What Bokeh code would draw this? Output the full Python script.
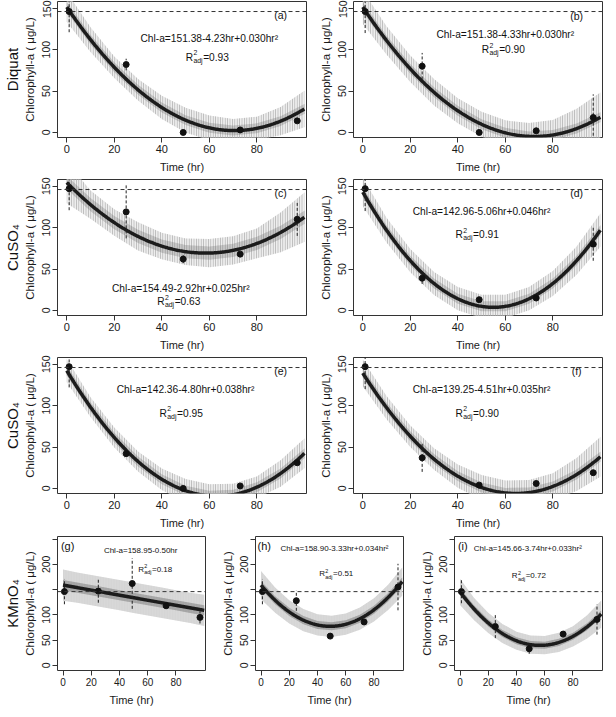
import numpy as np
from bokeh.plotting import figure
from bokeh.models import Range1d, FixedTicker, LinearAxis, Span
from bokeh.layouts import column, row
from bokeh.core.properties import value
from bokeh.embed import file_html
from bokeh.resources import INLINE

# ---------------- data ----------------
obs_time = [1, 25, 49, 73, 97]          # sampling times (hr)
control_level = 146                      # dashed reference line (µg/L)

chl_a = [146, 82, 0, 3, 14];     err_a = [25, 7, 0, 0, 0]
chl_b = [146, 80, 0, 2, 18];     err_b = [26, 16, 0, 0, 28]
chl_c = [147, 119, 62, 68, 110]; err_c = [26, 32, 5, 0, 20]
chl_d = [147, 39, 13, 15, 80];   err_d = [27, 7, 0, 0, 20]
chl_e = [147, 42, 0, 3, 31];     err_e = [25, 0, 0, 0, 0]
chl_f = [147, 37, 4, 6, 19];     err_f = [27, 17, 0, 0, 0]
chl_g = [146, 147, 162, 118, 95]; err_g = [25, 23, 50, 0, 12]
chl_h = [146, 128, 58, 86, 155]; err_h = [25, 20, 0, 0, 46]
chl_i = [146, 77, 33, 62, 91];   err_i = [23, 23, 10, 0, 30]

# fitted model coefficients: Chl-a = c0 + c1*hr + c2*hr^2
coef_a = [151.38, -4.23, 0.030]
coef_b = [151.38, -4.33, 0.030]
coef_c = [154.49, -2.92, 0.025]
coef_d = [142.96, -5.06, 0.046]
coef_e = [142.36, -4.80, 0.038]
coef_f = [139.25, -4.51, 0.035]
coef_g = [158.95, -0.50, 0.0]
coef_h = [158.90, -3.33, 0.034]
coef_i = [145.66, -3.74, 0.033]

eq_texts = ["Chl-a=151.38-4.23hr+0.030hr²", "Chl-a=151.38-4.33hr+0.030hr²",
            "Chl-a=154.49-2.92hr+0.025hr²", "Chl-a=142.96-5.06hr+0.046hr²",
            "Chl-a=142.36-4.80hr+0.038hr²", "Chl-a=139.25-4.51hr+0.035hr²",
            "Chl-a=158.95-0.50hr", "Chl-a=158.90-3.33hr+0.034hr²",
            "Chl-a=145.66-3.74hr+0.033hr²"]
r2_texts = ["0.93", "0.90", "0.63", "0.91", "0.95", "0.90", "0.18", "0.51", "0.72"]
panel_tags = ["(a)", "(b)", "(c)", "(d)", "(e)", "(f)", "(g)", "(h)", "(i)"]
row_names = ["Diquat", "CuSO₄", "CuSO₄", "KMnO₄"]

# confidence band half-widths (µg/L) read at these times
band_time = [0, 10, 20, 30, 40, 50, 60, 70, 80, 90, 100]
band_a = [18, 15, 13, 13, 14, 15, 15, 14, 14, 17, 22]
band_b = [20, 17, 16, 16, 15, 15, 15, 16, 18, 24, 30]
band_c = [25, 17, 16, 17, 16, 16, 17, 17, 18, 24, 30]
band_d = [17, 15, 14, 14, 14, 14, 14, 14, 15, 17, 20]
band_e = [14, 12, 12, 12, 13, 14, 14, 13, 13, 16, 18]
band_f = [16, 14, 13, 13, 14, 15, 15, 15, 16, 20, 24]
band_g = [31, 30, 30, 30, 30, 30, 30, 30, 30, 30, 31]
band_h = [28, 25, 23, 22, 21, 21, 21, 22, 23, 25, 28]
band_i = [26, 22, 20, 19, 18, 18, 18, 19, 20, 23, 27]
inner_hw = [6, 6, 8, 6, 6, 6, 10, 8, 7]

x_ticks = [0, 20, 40, 60, 80]
y_ticks_top = [0, 50, 100, 150]
y_ticks_bottom = [0, 50, 100, 150, 200, 250]

# ---------------- layout / style (not data) ----------------
FONT = "Liberation Sans"
XR = (-3.9, 100.9)
YR_TOP = (-6.1, 158.1)
YR_BOT = (-10, 255)

# text positions per panel: eq (x,y), r2 (x,y), tag (x,y,align)
text_pos = [
    ((60, 113), (59, 91), (90, 142, "center")),
    ((60, 118), (59, 100), (90, 141, "center")),
    ((48, 27), (47, 11), (90, 142, "center")),
    ((50, 120), (48, 92), (90, 142, "center")),
    ((50, 119), (48, 91), (90, 142, "center")),
    ((50, 119), (48, 91), (90, 142, "center")),
    ((55, 227), (65, 190), (-1.5, 236, "left")),
    ((52, 232), (53, 181), (-2.5, 236, "left")),
    ((48, 232), (48.5, 177), (-1.5, 236, "left")),
]

chls = [chl_a, chl_b, chl_c, chl_d, chl_e, chl_f, chl_g, chl_h, chl_i]
errs = [err_a, err_b, err_c, err_d, err_e, err_f, err_g, err_h, err_i]
coefs = [coef_a, coef_b, coef_c, coef_d, coef_e, coef_f, coef_g, coef_h, coef_i]
bands = [band_a, band_b, band_c, band_d, band_e, band_f, band_g, band_h, band_i]


def style_axes(p, yticks, overrides, tick_fs):
    for ax in (p.xaxis[0], p.yaxis[0]):
        ax.axis_line_color = None
        ax.major_tick_in = 0
        ax.major_tick_out = 5
        ax.minor_tick_line_color = None
        ax.major_tick_line_color = "#333333"
        ax.major_label_text_font = FONT
        ax.major_label_text_color = "#1a1a1a"
        ax.major_label_standoff = 2
        ax.axis_label_text_font = FONT
        ax.axis_label_text_font_style = "normal"
        ax.axis_label_text_color = "#1a1a1a"
    xa = p.xaxis[0]
    xa.ticker = FixedTicker(ticks=x_ticks)
    xa.major_label_text_font_size = tick_fs
    xa.axis_label = "Time (hr)"
    xa.axis_label_text_font_size = "11px"
    xa.axis_label_standoff = 5
    ya = p.yaxis[0]
    ya.ticker = FixedTicker(ticks=yticks)
    ya.major_label_orientation = "vertical"
    ya.major_label_text_font_size = "10.5px"
    ya.major_label_overrides = overrides
    ya.axis_label = "Chlorophyll-a ( μg/L)"
    ya.axis_label_text_font_size = "11.5px"
    ya.axis_label_standoff = 4


def add_r2(p, x, y, r2, fs):
    small = fs * 0.68
    wR = 0.722 * fs
    wsub = 1.334 * small
    wrest = (0.584 + 0.556 * 3 + 0.278) * fs
    x0 = -(wR + wsub + wrest) / 2
    common = dict(text_font=value(FONT), text_color="#111111", text_baseline="middle",
                  text_align="left")
    p.text(x=[x], y=[y], text=["R"], x_offset=x0, text_font_size=value(f"{fs}px"), **common)
    p.text(x=[x], y=[y], text=["2"], x_offset=x0 + wR + 0.3, y_offset=-0.40 * fs,
           text_font_size=value(f"{small:.1f}px"), **common)
    p.text(x=[x], y=[y], text=["adj"], x_offset=x0 + wR + 0.3, y_offset=0.33 * fs,
           text_font_size=value(f"{small:.1f}px"), **common)
    p.text(x=[x], y=[y], text=["=" + r2], x_offset=x0 + wR + wsub + 0.8,
           text_font_size=value(f"{fs}px"), **common)


def make_panel(k, fw, fh, bl, br, bt, bb, row_label=None):
    bottom = k >= 6
    yr = YR_BOT if bottom else YR_TOP
    p = figure(frame_width=fw, frame_height=fh, x_range=Range1d(*XR), y_range=Range1d(*yr),
               toolbar_location=None, output_backend="svg",
               min_border_left=bl, min_border_right=br, min_border_top=bt, min_border_bottom=bb,
               background_fill_color="white", border_fill_color="white")
    p.grid.visible = False
    p.outline_line_color = "#333333"
    p.outline_line_width = 1
    style_axes(p, y_ticks_bottom if bottom else y_ticks_top,
               {150: "", 250: ""} if bottom else {}, "10px" if bottom else "11px")

    if row_label is not None:
        lab = LinearAxis(ticker=FixedTicker(ticks=[]), axis_label=row_label,
                         axis_line_color=None, major_tick_line_color=None,
                         minor_tick_line_color=None, major_tick_out=0, minor_tick_out=0,
                         major_tick_in=0, minor_tick_in=0, major_label_standoff=0,
                         axis_label_standoff=0, axis_label_text_font=FONT,
                         axis_label_text_font_size="15px", axis_label_text_font_style="normal",
                         axis_label_text_color="#111111")
        p.add_layout(lab, "left")

    c0, c1, c2 = coefs[k]
    bx = np.array(band_time, dtype=float)
    hw = np.array(bands[k], dtype=float)
    fb = c0 + c1 * bx + c2 * bx ** 2
    if bottom:
        p.varea(x=bx, y1=fb - hw, y2=fb + hw, fill_color="#d8d8d8", fill_alpha=1,
                hatch_pattern="vertical_line", hatch_color="#c3c3c3", hatch_scale=1.6,
                hatch_weight=0.7)
        p.varea(x=bx, y1=fb - inner_hw[k], y2=fb + inner_hw[k], fill_color="#a8a8a8",
                fill_alpha=1, hatch_pattern="vertical_line", hatch_color="#939393",
                hatch_scale=1.6, hatch_weight=0.7)
    else:
        p.varea(x=bx, y1=fb - hw, y2=fb + hw, fill_color="#eeeeee", fill_alpha=1,
                hatch_pattern="vertical_line", hatch_color="#b8b8b8", hatch_scale=2.4,
                hatch_weight=1.2)
        p.varea(x=bx, y1=fb - inner_hw[k], y2=fb + inner_hw[k], fill_color="#c8c8c8",
                fill_alpha=1, hatch_pattern="vertical_line", hatch_color="#a0a0a0",
                hatch_scale=2.4, hatch_weight=1.2)

    xs = np.linspace(0, 100, 201)
    p.line(xs, c0 + c1 * xs + c2 * xs ** 2, line_width=3.5, line_color="#1c1c1c")

    p.add_layout(Span(location=control_level, dimension="width", line_dash="4 3",
                      line_color="#333333", line_width=1))

    ox = np.array(obs_time, dtype=float)
    oy = np.array(chls[k], dtype=float)
    oe = np.array(errs[k], dtype=float)
    m = oe > 0
    p.segment(x0=ox[m], y0=(oy - oe)[m], x1=ox[m], y1=(oy + oe)[m],
              line_dash="3 2", line_color="#222222", line_width=1)
    p.scatter(ox, oy, size=6, color="#111111")

    (ex, ey), (rx, ry), (tx, ty, talign) = text_pos[k]
    fs = 8 if bottom else 10.2
    p.text(x=[ex], y=[ey], text=[eq_texts[k]], text_font=value(FONT),
           text_font_size=value(f"{fs}px"), text_align="center", text_baseline="middle",
           text_color="#111111")
    add_r2(p, rx, ry, r2_texts[k], fs)
    p.text(x=[tx], y=[ty], text=[panel_tags[k]], text_font=value(FONT),
           text_font_size=value("11px" if bottom else "10.5px"), text_align=talign,
           text_baseline="middle", text_color="#111111")
    return p


rows = []
heights = [(1, 136, 36), (4, 136, 36), (4, 136, 36)]
for r in range(3):
    bt, fh, bb = heights[r]
    left = make_panel(2 * r, 249, fh, 53, 5, bt, bb, row_label=row_names[r])
    right = make_panel(2 * r + 1, 249, fh, 42, 2, bt, bb)
    rows.append(row(left, right))

g = make_panel(6, 148, 134, 53, 10, 5, 35, row_label=row_names[3])
h = make_panel(7, 148, 134, 40, 11, 5, 35)
i = make_panel(8, 148, 134, 40, 2, 5, 35)
rows.append(row(g, h, i))

layout = column(*rows)
open("out.html", "w").write(file_html(layout, INLINE))
